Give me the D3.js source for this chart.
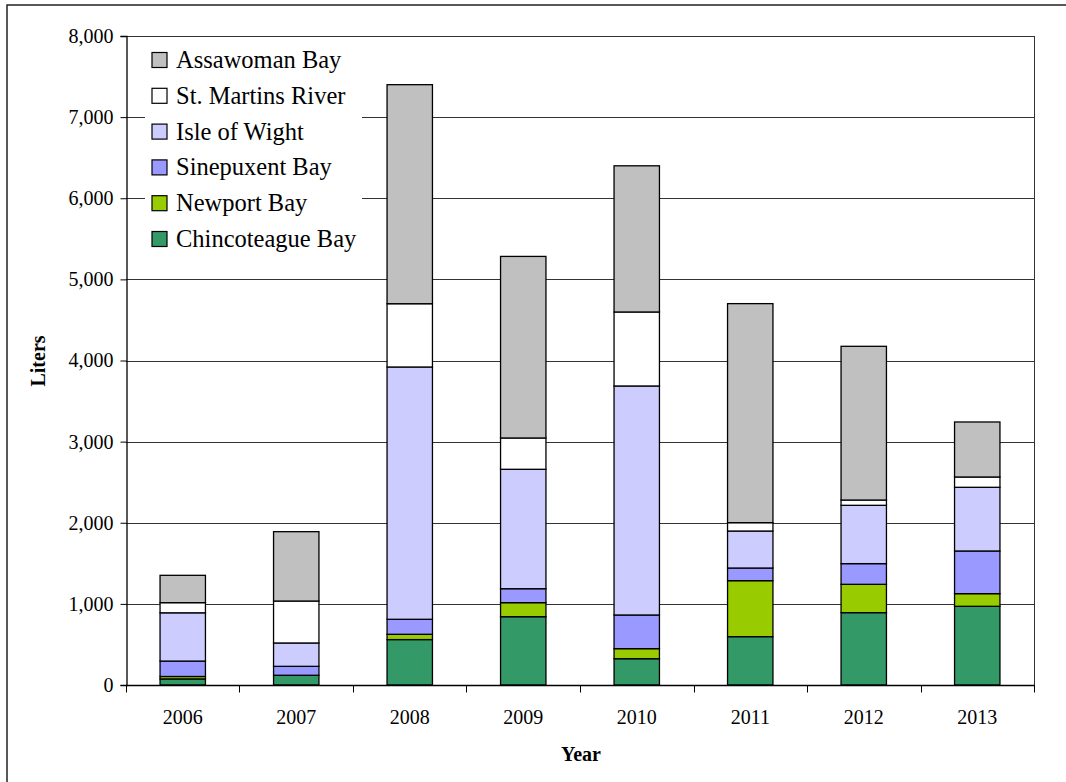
<!DOCTYPE html>
<html>
<head>
<meta charset="utf-8">
<script src="https://cdn.jsdelivr.net/npm/d3@7"></script>
<style>
  html, body { margin: 0; padding: 0; background: #fff; }
  svg { display: block; }
  text { font-family: "Liberation Serif", "Times New Roman", serif !important; fill: #000; }
</style>
</head>
<body>
<svg id="chart" width="1066" height="782"></svg>
<script>
// ---- Data ----
const years = ["2006", "2007", "2008", "2009", "2010", "2011", "2012", "2013"];
const seriesNames = ["Chincoteague Bay", "Newport Bay", "Sinepuxent Bay", "Isle of Wight", "St. Martins River", "Assawoman Bay"];
const chincoteague = [75, 120, 560, 842, 324, 596, 892, 970];
const newport      = [30, 0, 65, 173, 124, 690, 349, 156];
const sinepuxent   = [190, 110, 185, 172, 415, 156, 255, 526];
const isleOfWight  = [595, 288, 3110, 1472, 2823, 456, 719, 785];
const stMartins    = [125, 517, 780, 386, 912, 103, 65, 127];
const assawoman    = [337, 855, 2700, 2238, 1802, 2700, 1895, 678];
const yTicks = [0, 1000, 2000, 3000, 4000, 5000, 6000, 7000, 8000];
const colors = ["#339966", "#99CC00", "#9999FF", "#CCCCFF", "#FFFFFF", "#C0C0C0"];
const legendOrder = ["Assawoman Bay", "St. Martins River", "Isle of Wight", "Sinepuxent Bay", "Newport Bay", "Chincoteague Bay"];

const seriesValues = [chincoteague, newport, sinepuxent, isleOfWight, stMartins, assawoman];
const table = years.map((y, i) => {
  const row = { year: y };
  seriesNames.forEach((s, j) => row[s] = seriesValues[j][i]);
  return row;
});

// ---- Layout ----
const FONT = '"Liberation Serif", "Times New Roman", serif';
const svg = d3.select("#chart").attr("font-family", FONT);
const plot = { left: 126, right: 1034, top: 36, bottom: 685 };

// outer frame
svg.append("rect")
  .attr("x", 7).attr("y", 5).attr("width", 1100).attr("height", 820)
  .attr("fill", "none").attr("stroke", "#222").attr("stroke-width", 1.5);

const x = d3.scaleBand().domain(years).range([plot.left, plot.right])
  .paddingInner(0.6).paddingOuter(0.3);
const y = d3.scaleLinear().domain([0, 8000]).range([plot.bottom, plot.top]);
const color = d3.scaleOrdinal().domain(seriesNames).range(colors);

// gridlines
svg.append("g").selectAll("line").data(yTicks.filter(t => t > 0)).join("line")
  .attr("x1", plot.left).attr("x2", plot.right)
  .attr("y1", d => Math.round(y(d)) + 0.5).attr("y2", d => Math.round(y(d)) + 0.5)
  .attr("stroke", "#333").attr("stroke-width", 1);

// plot border (right side)
svg.append("line")
  .attr("x1", plot.right + 0.5).attr("x2", plot.right + 0.5)
  .attr("y1", plot.top).attr("y2", plot.bottom)
  .attr("stroke", "#333").attr("stroke-width", 1);

// legend background
svg.append("rect")
  .attr("x", 145).attr("y", 40).attr("width", 217).attr("height", 218)
  .attr("fill", "#fff");

// bars
const stacked = d3.stack().keys(seriesNames)(table);
svg.append("g").selectAll("g").data(stacked).join("g")
  .attr("fill", d => color(d.key))
  .selectAll("rect").data(d => d).join("rect")
  .attr("x", d => x(d.data.year))
  .attr("width", x.bandwidth())
  .attr("y", d => y(d[1]))
  .attr("height", d => Math.max(0, y(d[0]) - y(d[1])))
  .attr("stroke", "#000").attr("stroke-width", 1.3);

// y axis
const yAxis = svg.append("g")
  .attr("transform", `translate(${plot.left + 0.5},0)`)
  .call(d3.axisLeft(y).tickValues(yTicks).tickSize(6).tickPadding(7)
    .tickFormat(d3.format(",")));
yAxis.attr("font-family", FONT);
yAxis.select(".domain").attr("stroke", "#000").attr("stroke-width", 1.3);
yAxis.selectAll(".tick line").attr("stroke", "#000");
yAxis.selectAll("text").style("font-size", "20px");

// x axis
const xAxis = svg.append("g")
  .attr("transform", `translate(0,${plot.bottom + 0.5})`)
  .call(d3.axisBottom(x).tickSize(0).tickPadding(24));
xAxis.attr("font-family", FONT);
xAxis.select(".domain").attr("d", `M${plot.left},0H${plot.right + 1}`)
  .attr("stroke", "#000").attr("stroke-width", 1.3);
xAxis.selectAll("text").style("font-size", "20px");
const boundaries = years.map(yr => x(yr) - (x.step() - x.bandwidth()) / 2)
  .concat([plot.right]);
xAxis.append("g").selectAll("line").data(boundaries).join("line")
  .attr("x1", d => Math.round(d) + 0.5).attr("x2", d => Math.round(d) + 0.5)
  .attr("y1", 0).attr("y2", 7)
  .attr("stroke", "#000").attr("stroke-width", 1);

// axis titles
svg.append("text")
  .attr("transform", "translate(45,361) rotate(-90)")
  .attr("text-anchor", "middle")
  .style("font-size", "20px").style("font-weight", "bold")
  .text("Liters");
svg.append("text")
  .attr("x", 581).attr("y", 761)
  .attr("text-anchor", "middle")
  .style("font-size", "20px").style("font-weight", "bold")
  .text("Year");

// legend
const legend = svg.append("g");
const leg = legend.selectAll("g").data(legendOrder).join("g")
  .attr("transform", (d, i) => `translate(152,${60 + i * 35.8})`);
leg.append("rect")
  .attr("x", 0).attr("y", -7.5).attr("width", 15).attr("height", 15)
  .attr("fill", d => color(d)).attr("stroke", "#000").attr("stroke-width", 1.2);
leg.append("text")
  .attr("x", 24).attr("y", 8)
  .style("font-size", "24.5px")
  .text(d => d);
</script>
</body>
</html>
